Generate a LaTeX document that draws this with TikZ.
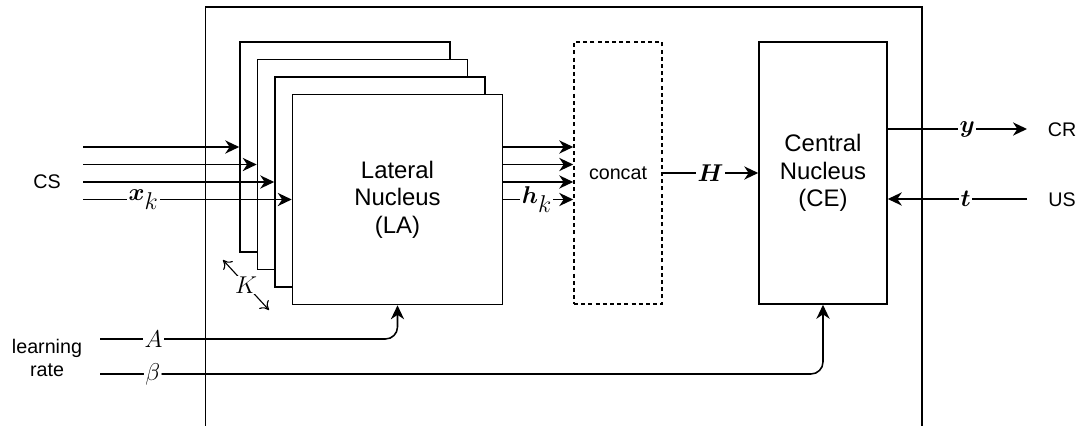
\documentclass[tikz,border=0pt]{standalone}
\usepackage{fontspec}
\usepackage{amsmath}
\setmainfont{Liberation Sans}
\usetikzlibrary{arrows.meta,positioning}

\begin{document}
\begin{tikzpicture}[
    x=0.25mm,y=-0.25mm,
    every node/.style={font=\fontsize{14}{16.5}\selectfont},
    box/.style={rectangle,draw,fill=white,line width=1.1pt,inner sep=0pt,
      minimum width=52.5mm,minimum height=52.5mm,align=center,
      font=\fontsize{17}{19.5}\selectfont},
    tall/.style={rectangle,draw,line width=1.1pt,inner sep=0pt,
      minimum height=65.5mm,align=center,font=\fontsize{17}{19.5}\selectfont},
    arrow/.style={-{Stealth[length=3.5mm,width=3.3mm,inset=1.1mm]},line width=1.1pt},
    wire/.style={line width=1.1pt},
    lbl/.style={fill=white,inner sep=1pt,font=\fontsize{17}{19}\selectfont}
  ]
    \useasboundingbox (0,0) rectangle (1081,426);
    \draw[wire] (205.5,426) -- (205.5,7) -- (922,7) -- (922,426);

    % stacked LA units
    \foreach \i in {1,2,3}
      \node[box] (la\i) at ({345+17.5*(\i-1)},{147+17.5*(\i-1)}) {};
    \node[box] (la4) at (397.5,199.5) {Lateral\\Nucleus\\(LA)};
    \node[tall,dashed,dash pattern=on 1mm off 0.8mm,minimum width=22mm] (concat) at (618,173)
      {\fontsize{14}{16.5}\selectfont concat};
    \node[tall,minimum width=32mm] (ce) at (823,173) {Central\\Nucleus\\(CE)};

    % CS inputs
    \node (cs) at (47,182) {CS};
    \foreach \i in {1,...,4}
      \coordinate (cs\i) at (83,{147+17.5*(\i-1)});
    \foreach \i in {1,2,3}
      \draw[arrow] (cs\i) -- (la\i.west |- cs\i);
    \draw[arrow] (cs4) -- node[lbl,pos=0.29] {$\boldsymbol{x}_{\textstyle k}$} (la4.west |- cs4);

    % LA outputs
    \foreach \i in {1,2,3}
      \draw[arrow] (la4.east |- cs\i) -- (concat.west |- cs\i);
    \draw[arrow] (la4.east |- cs4) -- node[lbl,pos=0.48] {$\boldsymbol{h}_{\textstyle k}$} (concat.west |- cs4);
    \draw[arrow] (concat.east) -- node[lbl] {$\boldsymbol{H}$} (ce.west);

    % K copies
    \coordinate (k1) at (223,260);
    \coordinate (k2) at (269,310);
    \draw[{To[length=2mm,width=3.2mm]}-{To[length=2mm,width=3.2mm]},line width=0.8pt]
      (k1) -- node[lbl,inner sep=0.5pt] {$K$} (k2);

    % CR and US
    \node (cr) at (1062,130) {CR};
    \node (us) at (1062,200) {US};
    \coordinate (crin) at (1027,129);
    \coordinate (usout) at (1027,199);
    \draw[arrow] (ce.east |- crin) -- node[lbl,pos=0.57] {$\boldsymbol{y}$} (crin);
    \draw[arrow] (usout) -- node[lbl,pos=0.44] {$\boldsymbol{t}$} (ce.east |- usout);

    % learning rates
    \node[align=center,font=\fontsize{14}{16.3}\selectfont] (lr) at (47,358) {learning\\rate};
    \coordinate (lra) at (100,339);
    \coordinate (lrb) at (100,374);
    \draw[arrow,rounded corners=3mm] (lra) -- node[lbl,pos=0.18] {$A$} (la4.south |- lra) -- (la4.south);
    \draw[arrow,rounded corners=3mm] (lrb) -- node[lbl,pos=0.073] {$\beta$} (ce.south |- lrb) -- (ce.south);
\end{tikzpicture}
\end{document}
